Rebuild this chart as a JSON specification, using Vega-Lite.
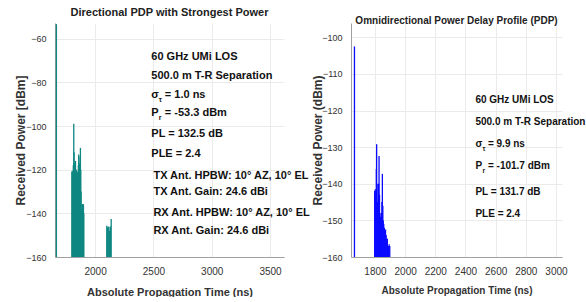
{
  "$schema": "https://vega.github.io/schema/vega-lite/v6.json",
  "background": "white",
  "padding": {"left": 14, "top": 7, "right": 0, "bottom": 0},
  "bounds": "flush",
  "spacing": 67,
  "datasets": {
    "dir": [
      {"t": 1668, "p": -53.3},
      {"t": 1801, "p": -121}, {"t": 1804, "p": -120.5}, {"t": 1807, "p": -121.5}, {"t": 1810, "p": -122},
      {"t": 1813, "p": -118}, {"t": 1817, "p": -99}, {"t": 1820, "p": -112}, {"t": 1823, "p": -117},
      {"t": 1826, "p": -118}, {"t": 1829, "p": -119}, {"t": 1832, "p": -116}, {"t": 1835, "p": -121},
      {"t": 1838, "p": -123}, {"t": 1841, "p": -120}, {"t": 1844, "p": -122}, {"t": 1847, "p": -124},
      {"t": 1850, "p": -121}, {"t": 1853, "p": -125}, {"t": 1856, "p": -118}, {"t": 1859, "p": -113},
      {"t": 1862, "p": -119}, {"t": 1865, "p": -121}, {"t": 1868, "p": -117}, {"t": 1871, "p": -114},
      {"t": 1874, "p": -110}, {"t": 1877, "p": -120}, {"t": 1880, "p": -130}, {"t": 1884, "p": -138},
      {"t": 1888, "p": -136}, {"t": 1891, "p": -135.7}, {"t": 1894, "p": -137}, {"t": 1897, "p": -135.7},
      {"t": 1900, "p": -136}, {"t": 1903, "p": -140},
      {"t": 2100, "p": -145.7}, {"t": 2106, "p": -146.5}, {"t": 2112, "p": -146}, {"t": 2118, "p": -146.2},
      {"t": 2124, "p": -148}, {"t": 2131, "p": -146}, {"t": 2138, "p": -142.6}
    ],
    "omni": [
      {"t": 1664, "p": -102.5},
      {"t": 1798, "p": -142}, {"t": 1802, "p": -141.5}, {"t": 1806, "p": -143}, {"t": 1809, "p": -136},
      {"t": 1811, "p": -129.2}, {"t": 1814, "p": -140}, {"t": 1817, "p": -145}, {"t": 1820, "p": -146},
      {"t": 1824, "p": -140}, {"t": 1827, "p": -132.4}, {"t": 1830, "p": -143}, {"t": 1833, "p": -148},
      {"t": 1836, "p": -149}, {"t": 1840, "p": -150}, {"t": 1843, "p": -148}, {"t": 1846, "p": -145},
      {"t": 1849, "p": -137.3}, {"t": 1852, "p": -146}, {"t": 1855, "p": -150}, {"t": 1858, "p": -151},
      {"t": 1862, "p": -152}, {"t": 1866, "p": -153}, {"t": 1870, "p": -152.5}, {"t": 1874, "p": -154},
      {"t": 1878, "p": -155}, {"t": 1882, "p": -155}, {"t": 1886, "p": -157}, {"t": 1890, "p": -157},
      {"t": 1894, "p": -156.5}, {"t": 1898, "p": -157}
    ],
    "dirText": [
      {"t": 2482, "p": -68.4, "label": "60 GHz UMi LOS"},
      {"t": 2482, "p": -77.3, "label": "500.0 m T-R Separation"},
      {"t": 2482, "p": -85.8, "label": "σ"},
      {"t": 2482, "p": -94.1, "label": "P"},
      {"t": 2482, "p": -103.7, "label": "PL = 132.5 dB"},
      {"t": 2482, "p": -112.8, "label": "PLE = 2.4"},
      {"t": 2500, "p": -122.9, "label": "TX Ant. HPBW: 10° AZ, 10° EL"},
      {"t": 2500, "p": -130.2, "label": "TX Ant. Gain: 24.6 dBi"},
      {"t": 2500, "p": -139.9, "label": "RX Ant. HPBW: 10° AZ, 10° EL"},
      {"t": 2500, "p": -148.3, "label": "RX Ant. Gain: 24.6 dBi"}
    ],
    "dirRest": [
      {"t": 2482, "p": -85.8, "label": "= 1.0 ns"},
      {"t": 2482, "p": -94.1, "label": "= -53.3 dBm"}
    ],
    "dirSub": [
      {"t": 2482, "p": -85.8, "label": "τ"},
      {"t": 2482, "p": -94.1, "label": "r"}
    ],
    "omniText": [
      {"t": 2466, "p": -117.2, "label": "60 GHz UMi LOS"},
      {"t": 2466, "p": -123.1, "label": "500.0 m T-R Separation"},
      {"t": 2466, "p": -129.1, "label": "σ"},
      {"t": 2466, "p": -135.1, "label": "P"},
      {"t": 2466, "p": -142.2, "label": "PL = 131.7 dB"},
      {"t": 2466, "p": -148.2, "label": "PLE = 2.4"}
    ],
    "omniRest": [
      {"t": 2466, "p": -129.1, "label": "= 9.9 ns"},
      {"t": 2466, "p": -135.1, "label": "= -101.7 dBm"}
    ],
    "omniSub": [
      {"t": 2466, "p": -129.1, "label": "τ"},
      {"t": 2466, "p": -135.1, "label": "r"}
    ]
  },
  "hconcat": [
    {
      "width": 229,
      "height": 234,
      "title": {"text": "Directional PDP with Strongest Power", "font": "Liberation Sans", "fontSize": 11, "fontWeight": "bold", "color": "#222", "offset": 5},
      "encoding": {
        "x": {"field": "t", "type": "quantitative", "scale": {"domain": [1656, 3620], "nice": false, "zero": false},
              "axis": {"values": [2000, 2500, 3000, 3500], "format": "d", "labelOverlap": false, "title": "Absolute Propagation Time (ns)", "titleFontSize": 11, "labelFontSize": 10, "labelPadding": 9, "titlePadding": 10}},
        "y": {"field": "p", "type": "quantitative", "scale": {"domain": [-160, -52.8], "nice": false, "zero": false},
              "axis": {"values": [-160, -140, -120, -100, -80, -60], "format": "d", "labelOverlap": false, "title": "Received Power [dBm]", "titleFontSize": 12, "labelFontSize": 9, "labelPadding": 9, "titleX": -28, "titleBaseline": "bottom"}}
      },
      "layer": [
        {
          "data": {"name": "dir"},
          "mark": {"type": "rule", "color": "#0f8782", "strokeWidth": 1.3},
          "encoding": {"y2": {"datum": -160}}
        },
        {
          "data": {"name": "dirText"},
          "mark": {"type": "text", "align": "left", "baseline": "middle", "font": "Liberation Sans", "fontSize": 11, "fontWeight": "bold", "color": "#111"},
          "encoding": {"text": {"field": "label"}}
        },
        {
          "data": {"name": "dirRest"},
          "mark": {"type": "text", "align": "left", "baseline": "middle", "font": "Liberation Sans", "fontSize": 11, "fontWeight": "bold", "color": "#111", "dx": 13.5},
          "encoding": {"text": {"field": "label"}}
        },
        {
          "data": {"name": "dirSub"},
          "mark": {"type": "text", "align": "left", "baseline": "middle", "font": "Liberation Sans", "fontSize": 7, "fontWeight": "bold", "color": "#111", "dx": 7.5, "dy": 5},
          "encoding": {"text": {"field": "label"}}
        }
      ]
    },
    {
      "width": 211,
      "height": 234,
      "title": {"text": "Omnidirectional Power Delay Profile (PDP)", "font": "Liberation Sans", "fontSize": 10, "fontWeight": "bold", "color": "#222", "offset": 0, "dy": 3},
      "encoding": {
        "x": {"field": "t", "type": "quantitative", "scale": {"domain": [1641, 3040], "nice": false, "zero": false},
              "axis": {"values": [1800, 2000, 2200, 2400, 2600, 2800, 3000], "format": "d", "labelOverlap": false, "title": "Absolute Propagation Time (ns)", "titleFontSize": 10, "labelFontSize": 10, "labelPadding": 9, "titlePadding": 9}},
        "y": {"field": "p", "type": "quantitative", "scale": {"domain": [-160, -96.1], "nice": false, "zero": false},
              "axis": {"values": [-160, -150, -140, -130, -120, -110, -100], "format": "d", "labelOverlap": false, "title": "Received Power (dBm)", "titleFontSize": 12, "labelFontSize": 9, "labelPadding": 9, "titleX": -27, "titleBaseline": "bottom"}}
      },
      "layer": [
        {
          "data": {"name": "omni"},
          "mark": {"type": "rule", "color": "#0a0aff", "strokeWidth": 1.3},
          "encoding": {"y2": {"datum": -160}}
        },
        {
          "data": {"name": "omniText"},
          "mark": {"type": "text", "align": "left", "baseline": "middle", "font": "Liberation Sans", "fontSize": 10, "fontWeight": "bold", "color": "#111"},
          "encoding": {"text": {"field": "label"}}
        },
        {
          "data": {"name": "omniRest"},
          "mark": {"type": "text", "align": "left", "baseline": "middle", "font": "Liberation Sans", "fontSize": 10, "fontWeight": "bold", "color": "#111", "dx": 12.5},
          "encoding": {"text": {"field": "label"}}
        },
        {
          "data": {"name": "omniSub"},
          "mark": {"type": "text", "align": "left", "baseline": "middle", "font": "Liberation Sans", "fontSize": 6.5, "fontWeight": "bold", "color": "#111", "dx": 7, "dy": 5},
          "encoding": {"text": {"field": "label"}}
        }
      ]
    }
  ],
  "config": {
    "view": {"stroke": null},
    "axis": {
      "grid": true,
      "gridColor": "#ebebeb",
      "domainColor": "#a0a0a0",
      "ticks": false,
      "labelOverlap": false,
      "labelFont": "Liberation Sans",
      "labelColor": "#333",
      "titleFont": "Liberation Sans",
      "titleFontWeight": "bold",
      "titleColor": "#333"
    }
  }
}
